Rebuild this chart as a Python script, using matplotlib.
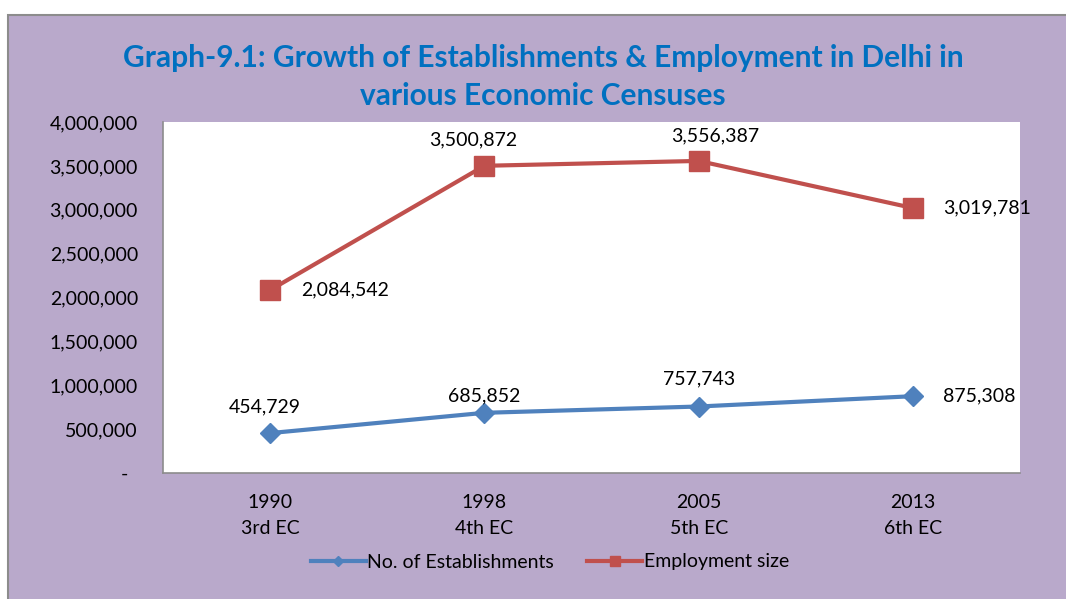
import matplotlib.pyplot as plt
from matplotlib.patches import Rectangle
from matplotlib.ticker import FuncFormatter

plt.rcParams['font.family'] = ['Lato', 'DejaVu Sans']

years = ["1990\n3rd EC", "1998\n4th EC", "2005\n5th EC", "2013\n6th EC"]
establishments = [454729, 685852, 757743, 875308]
employment = [2084542, 3500872, 3556387, 3019781]

# label offsets (points) for each data label
est_offsets = [(-4, 19), (0, 12), (0, 20), (22, 0)]
emp_offsets = [(22, 0), (-8, 19), (12, 18), (22, 0)]

blue = "#4f81bd"
red = "#c0504d"
fs = 14

fig = plt.figure(figsize=(10.66, 5.99), dpi=100)
fig.patches.append(Rectangle((8 / 1066, -0.05), 1.1, 1 - 15 / 599 + 0.05,
                             transform=fig.transFigure, facecolor="#b9a9cb",
                             edgecolor="#8c8c8c", linewidth=1.5, zorder=-5))

ax = fig.add_axes([163 / 1066, 1 - 473 / 599, (1020 - 163) / 1066, (473 - 122) / 599])
ax.set_facecolor("white")

x = range(len(years))
ax.plot(x, establishments, color=blue, lw=3, marker="D", ms=10, label="No. of Establishments")
ax.plot(x, employment, color=red, lw=3, marker="s", ms=14, label="Employment size")

for i, v in enumerate(establishments):
    dx, dy = est_offsets[i]
    ha = "left" if dx > 10 else "center"
    ax.annotate(f"{v:,}", (i, v), xytext=(dx, dy), textcoords="offset points",
                ha=ha, va="center", fontsize=fs, annotation_clip=False)
for i, v in enumerate(employment):
    dx, dy = emp_offsets[i]
    ha = "left" if dx > 20 else "center"
    ax.annotate(f"{v:,}", (i, v), xytext=(dx, dy), textcoords="offset points",
                ha=ha, va="center", fontsize=fs, annotation_clip=False)

ax.set_xlim(-0.5, 3.5)
ax.set_ylim(0, 4000000)
ax.set_yticks(range(0, 4000001, 500000))
ax.yaxis.set_major_formatter(FuncFormatter(lambda v, p: f"{int(v):,}" if v else "-  "))
ax.set_xticks(list(x))
ax.set_xticklabels(years, linespacing=1.65)
ax.tick_params(axis="both", length=0, labelsize=fs)
ax.tick_params(axis="y", pad=18)
ax.tick_params(axis="x", pad=15)
for s in ["top", "right"]:
    ax.spines[s].set_visible(False)
for s in ["left", "bottom"]:
    ax.spines[s].set_color("#8c8c8c")
    ax.spines[s].set_linewidth(1.2)

fig.text(543 / 1066, 1 - 77 / 599,
         "Graph-9.1: Growth of Establishments & Employment in Delhi in\nvarious Economic Censuses",
         ha="center", va="center", fontsize=21.5, fontweight="bold", color="#0070c0",
         linespacing=1.42)

fig.legend(loc="center", bbox_to_anchor=(550 / 1066, 1 - 562 / 599), ncol=2,
           frameon=False, fontsize=fs, handlelength=2.8, handletextpad=0.1,
           columnspacing=1.7, markerscale=0.55)

fig.savefig("out.png", dpi=100)
